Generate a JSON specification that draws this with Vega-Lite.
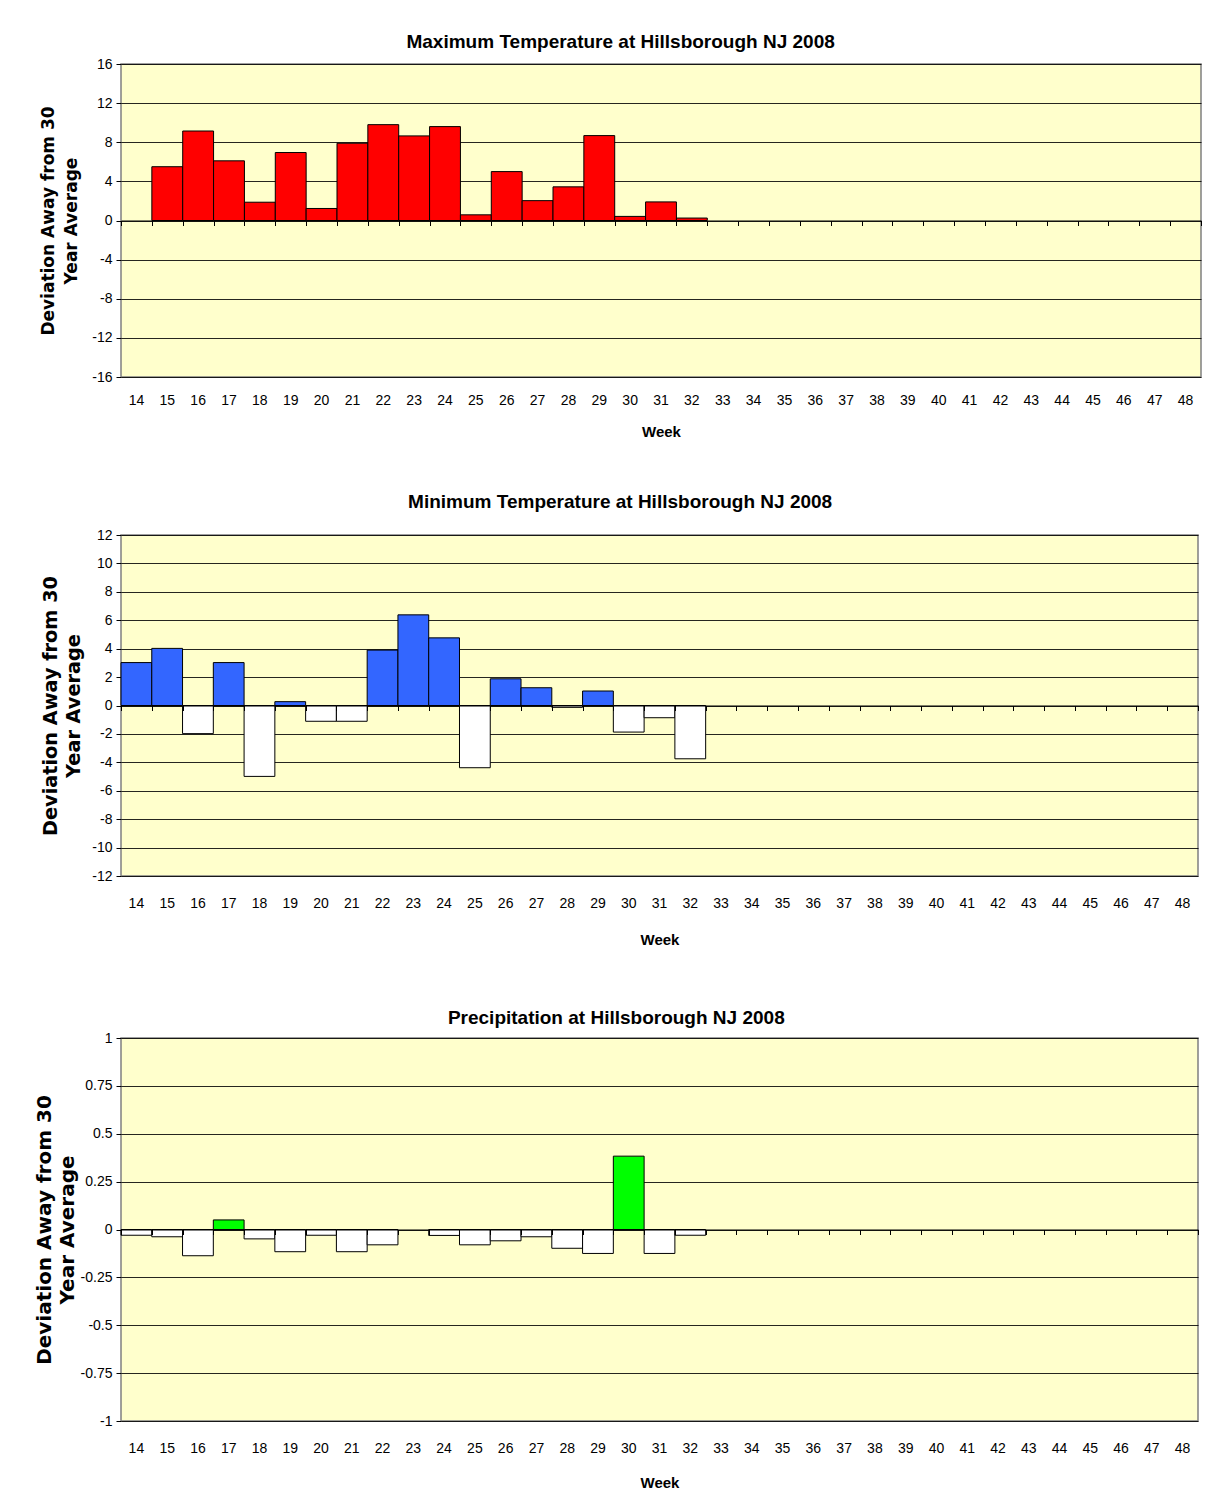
{
  "$schema": "https://vega.github.io/schema/vega-lite/v6.json",
  "background": "white",
  "padding": {"top": 32, "left": 33, "right": 10, "bottom": 5},
  "spacing": 52,
  "datasets": {
    "maxT": [
      {"week": 15, "v": 5.5}, {"week": 16, "v": 9.15}, {"week": 17, "v": 6.1}, {"week": 18, "v": 1.87},
      {"week": 19, "v": 6.95}, {"week": 20, "v": 1.23}, {"week": 21, "v": 7.9}, {"week": 22, "v": 9.8},
      {"week": 23, "v": 8.65}, {"week": 24, "v": 9.6}, {"week": 25, "v": 0.58}, {"week": 26, "v": 5.0},
      {"week": 27, "v": 2.03}, {"week": 28, "v": 3.44}, {"week": 29, "v": 8.68}, {"week": 30, "v": 0.42},
      {"week": 31, "v": 1.9}, {"week": 32, "v": 0.25}
    ],
    "minT": [
      {"week": 14, "v": 3.02}, {"week": 15, "v": 4.02}, {"week": 16, "v": -1.98}, {"week": 17, "v": 3.02},
      {"week": 18, "v": -4.99}, {"week": 19, "v": 0.27}, {"week": 20, "v": -1.11}, {"week": 21, "v": -1.11},
      {"week": 22, "v": 3.9}, {"week": 23, "v": 6.38}, {"week": 24, "v": 4.76}, {"week": 25, "v": -4.38},
      {"week": 26, "v": 1.88}, {"week": 27, "v": 1.25}, {"week": 28, "v": -0.13}, {"week": 29, "v": 1.02},
      {"week": 30, "v": -1.87}, {"week": 31, "v": -0.86}, {"week": 32, "v": -3.75}
    ],
    "prec": [
      {"week": 14, "v": -0.03}, {"week": 15, "v": -0.038}, {"week": 16, "v": -0.137}, {"week": 17, "v": 0.05},
      {"week": 18, "v": -0.049}, {"week": 19, "v": -0.116}, {"week": 20, "v": -0.03}, {"week": 21, "v": -0.116},
      {"week": 22, "v": -0.08}, {"week": 24, "v": -0.031}, {"week": 25, "v": -0.08}, {"week": 26, "v": -0.059},
      {"week": 27, "v": -0.038}, {"week": 28, "v": -0.098}, {"week": 29, "v": -0.125}, {"week": 30, "v": 0.383},
      {"week": 31, "v": -0.125}, {"week": 32, "v": -0.03}
    ]
  },
  "config": {
    "view": {"fill": "#FFFFCC", "stroke": "#808080", "strokeWidth": 1.5},
    "title": {"font": "Liberation Sans, Arial, sans-serif", "fontSize": 19, "fontWeight": "bold", "color": "#000000", "anchor": "middle", "frame": "bounds"},
    "axis": {
      "labelFont": "Liberation Sans, Arial, sans-serif",
      "labelFontSize": 14, "labelColor": "#000000",
      "titleFont": "Liberation Sans, Arial, sans-serif",
      "titleColor": "#000000", "titleFontWeight": "bold", "titleFontSize": 15,
      "tickColor": "#000000", "domainColor": "#000000"
    },
    "axisY": {
      "titleFont": "DejaVu Sans, sans-serif", "titleFontSize": 17, "titleLineHeight": 23,
      "gridColor": "#000000", "gridOpacity": 0.85, "gridWidth": 1,
      "domain": false, "tickSize": 5, "labelPadding": 4, "titlePadding": 8,
      "labelExpr": "toString(datum.value)"
    }
  },
  "vconcat": [
    {
      "title": {"text": "Maximum Temperature at Hillsborough NJ 2008", "offset": 5},
      "width": 1080, "height": 313,
      "data": {"name": "maxT"},
      "resolve": {"axis": {"x": "independent"}},
      "layer": [
        {
          "mark": {"type": "bar", "fill": "#FF0000", "stroke": "#000000", "strokeWidth": 1},
          "encoding": {
            "x": {"field": "week", "type": "ordinal",
              "scale": {"domain": [14,15,16,17,18,19,20,21,22,23,24,25,26,27,28,29,30,31,32,33,34,35,36,37,38,39,40,41,42,43,44,45,46,47,48], "paddingInner": 0, "paddingOuter": 0},
              "axis": {"orient": "bottom", "ticks": false, "domain": false, "labelAngle": 0, "labelPadding": 16, "title": "Week", "titlePadding": 17}},
            "y": {"field": "v", "type": "quantitative",
              "scale": {"domain": [-16, 16], "nice": false},
              "axis": {"values": [-16,-12,-8,-4,0,4,8,12,16], "title": ["Deviation Away from 30", "Year Average"], "titlePadding": 11}}
          }
        },
        {
          "mark": {"type": "rule", "strokeOpacity": 0},
          "encoding": {
            "x": {"field": "week", "type": "ordinal",
              "axis": {"orient": "bottom", "offset": -156.5, "labels": false, "title": null, "tickBand": "extent", "tickSize": 5, "domainWidth": 1.2, "zindex": 1, "grid": false}}
          }
        }
      ]
    },
    {
      "spacing": 60,
      "vconcat": [
        {
          "title": {"text": "Minimum Temperature at Hillsborough NJ 2008", "offset": 16},
          "width": 1077, "height": 341,
          "data": {"name": "minT"},
          "resolve": {"axis": {"x": "independent"}},
          "layer": [
            {
              "mark": {"type": "bar", "stroke": "#000000", "strokeWidth": 1},
              "encoding": {
                "x": {"field": "week", "type": "ordinal",
                  "scale": {"domain": [14,15,16,17,18,19,20,21,22,23,24,25,26,27,28,29,30,31,32,33,34,35,36,37,38,39,40,41,42,43,44,45,46,47,48], "paddingInner": 0, "paddingOuter": 0},
                  "axis": {"orient": "bottom", "ticks": false, "domain": false, "labelAngle": 0, "labelPadding": 20, "title": "Week", "titlePadding": 22}},
                "y": {"field": "v", "type": "quantitative",
                  "scale": {"domain": [-12, 12], "nice": false},
                  "axis": {"values": [-12,-10,-8,-6,-4,-2,0,2,4,6,8,10,12], "title": ["Deviation Away from 30", "Year Average"], "titleFontSize": 19.3}},
                "fill": {"condition": {"test": "datum.v > 0", "value": "#3366FF"}, "value": "#FFFFFF"}
              }
            },
            {
              "mark": {"type": "rule", "strokeOpacity": 0},
              "encoding": {
                "x": {"field": "week", "type": "ordinal",
                  "axis": {"orient": "bottom", "offset": -170.5, "labels": false, "title": null, "tickBand": "extent", "tickSize": 5, "domainWidth": 1.2, "zindex": 1, "grid": false}}
              }
            }
          ]
        },
        {
          "title": {"text": "Precipitation at Hillsborough NJ 2008", "offset": 3},
          "width": 1077, "height": 383,
          "data": {"name": "prec"},
          "resolve": {"axis": {"x": "independent"}},
          "layer": [
            {
              "mark": {"type": "bar", "stroke": "#000000", "strokeWidth": 1},
              "encoding": {
                "x": {"field": "week", "type": "ordinal",
                  "scale": {"domain": [14,15,16,17,18,19,20,21,22,23,24,25,26,27,28,29,30,31,32,33,34,35,36,37,38,39,40,41,42,43,44,45,46,47,48], "paddingInner": 0, "paddingOuter": 0},
                  "axis": {"orient": "bottom", "ticks": false, "domain": false, "labelAngle": 0, "labelPadding": 20, "title": "Week", "titlePadding": 20}},
                "y": {"field": "v", "type": "quantitative",
                  "scale": {"domain": [-1, 1], "nice": false},
                  "axis": {"values": [-1,-0.75,-0.5,-0.25,0,0.25,0.5,0.75,1], "title": ["Deviation Away from 30", "Year Average"], "titleFontSize": 20, "titlePadding": 3}},
                "fill": {"condition": {"test": "datum.v > 0", "value": "#00FF00"}, "value": "#FFFFFF"}
              }
            },
            {
              "mark": {"type": "rule", "strokeOpacity": 0},
              "encoding": {
                "x": {"field": "week", "type": "ordinal",
                  "axis": {"orient": "bottom", "offset": -191.5, "labels": false, "title": null, "tickBand": "extent", "tickSize": 5, "domainWidth": 1.2, "zindex": 1, "grid": false}}
              }
            }
          ]
        }
      ]
    }
  ]
}
